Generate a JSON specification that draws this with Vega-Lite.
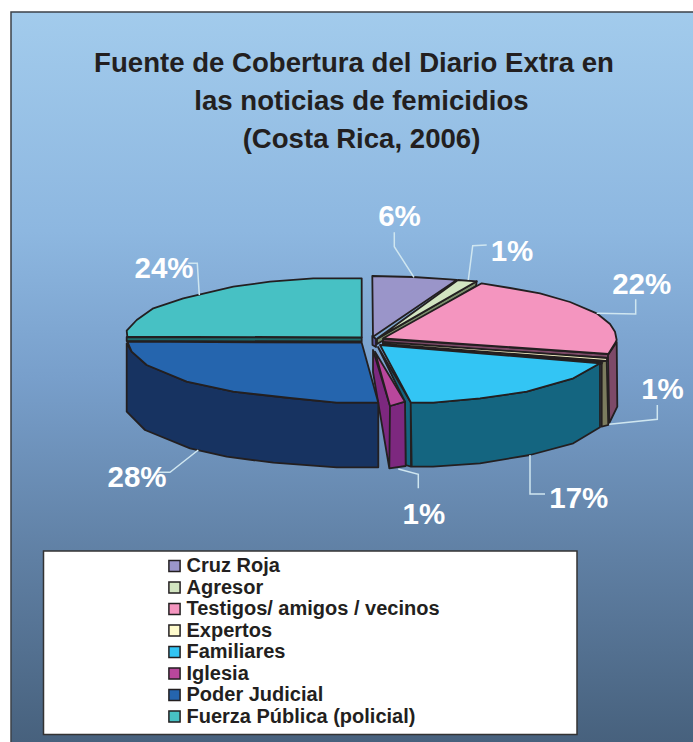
{
"$schema":"https://vega.github.io/schema/vega-lite/v6.json",
"width":692,"height":742,"autosize":{"type":"none"},"padding":{"left":0,"top":0,"right":1,"bottom":0},
"background":"#ffffff",
"view":{"stroke":null},
"title":{"text":"Fuente de Cobertura del Diario Extra en","font":"Liberation Sans","fontWeight":"bold","fontSize":27.6,"color":"#231f20","anchor":"middle","frame":"group","baseline":"alphabetic","offset":0,"dx":8,"dy":100},
"data":{"values":[
{"orden":1,"fuente":"Cruz Roja","valor":0.06},
{"orden":2,"fuente":"Agresor","valor":0.01},
{"orden":3,"fuente":"Testigos/ amigos / vecinos","valor":0.22},
{"orden":4,"fuente":"Expertos","valor":0.01},
{"orden":5,"fuente":"Familiares","valor":0.17},
{"orden":6,"fuente":"Iglesia","valor":0.01},
{"orden":7,"fuente":" Poder Judicial","valor":0.28},
{"orden":8,"fuente":"Fuerza Pública (policial)","valor":0.24}
]},
"resolve":{"scale":{"shape":"independent"},"legend":{"shape":"independent"}},
"layer":[
{"data":{"values":[{"elemento":"panel"}]},
 "mark":{"type":"point","filled":true,"opacity":1,"size":4,"shape":"M-335,372V-359H348V372Z","stroke":"#3d4248","strokeWidth":1.5,
  "fill":{"gradient":"linear","x1":0,"y1":0,"x2":0,"y2":1,"stops":[{"offset":0,"color":"#A2CBEC"},{"offset":0.3,"color":"#8DB7E0"},{"offset":0.5,"color":"#789FCB"},{"offset":0.75,"color":"#5F7FA3"},{"offset":1,"color":"#47617D"}]}},
 "encoding":{}},
{"data":{"values":[{"elemento":"recuadro"}]},
 "mark":{"type":"point","filled":true,"opacity":1,"size":4,"shape":"M-302.5,180H231V363.5H-302.5Z","stroke":"#333333","strokeWidth":1.5,"fill":"#ffffff"},
 "encoding":{}},
{"data":{"values":[{"elemento":"titulo"}]},
 "mark":{"type":"text","text":["las noticias de femicidios","(Costa Rica, 2006)"],"font":"Liberation Sans","fontWeight":"bold","fontSize":27.6,"lineHeight":38,"fill":"#231f20","align":"center","baseline":"alphabetic","dx":15.5,"dy":-261},
 "encoding":{}},
{"mark":{"type":"point","filled":true,"opacity":1,"size":4,"stroke":"#231f20","strokeWidth":1.8,"strokeJoin":"round"},
 "encoding":{
  "fill":{"field":"orden","type":"nominal","legend":null,"scale":{"domain":[1,2,3,4,5,6,7,8],"range":["#5A5799","#7A8F6B","#7D4A68","#7C7C5E","#146580","#7D287F","#173361","#1B6B6C"]}},
  "shape":{"field":"orden","type":"nominal","legend":null,"scale":{"domain":[1,2,3,4,5,6,7,8],"range":[
   "M26.3,-35L30,-32L30,-24L26.5,-26Z",
   "M130.7,-89.7L130,-85L31,-27L31,-32Z",
   "M37,-32L262,-17L262,-13L37,-28ZM262,-16L270.7,-29L271.3,35.7L263.3,52Z",
   "M255.7,-9L260.7,-11L262.3,54L255.7,55.7ZM37,-27L256,-9L256,-7L37,-25Z",
   "M64.7,31.3L87.3,31.7L134,27.3L180.7,20.7L227.3,7.3L254,-7.7L254,56.3L227.3,72.3L184,84L134,92.3L87,95.7L65.7,95.7ZM32,-24L64.7,31.3L65,95.7L59.5,94L59,31Z",
   "M44,35L59,30.7L59.7,95L43.3,97.3ZM27,-21L44,35L43.3,97.3L27,1Z",
   "M-219.3,-27.7L-214.3,-19.3L-199.3,-6L-159.3,10.7L-112.7,20.7L-56,27L-9.3,31.7L32.3,31.7L32.3,96.3L-9.3,96.3L-72.7,91.7L-119.3,85.7L-156,77.3L-201,59L-219.3,40.7Z",
   "M-219.3,-34L15.7,-33.5L15.7,-29.5L-219.3,-30Z"
  ]}}
 }},
{"mark":{"type":"point","filled":true,"opacity":1,"size":4,"stroke":"#231f20","strokeWidth":1.8,"strokeJoin":"round"},
 "encoding":{
  "color":{"field":"fuente","type":"nominal","title":null,
   "scale":{"domain":["Cruz Roja","Agresor","Testigos/ amigos / vecinos","Expertos","Familiares","Iglesia"," Poder Judicial","Fuerza Pública (policial)"],"range":["#9A95C9","#D2E5C1","#F495BF","#FFFBCC","#33C5F4","#B9479C","#2565AE","#47C1C4"]},
   "legend":{"orient":"none","legendX":164.5,"legendY":556,"zindex":1,"title":null,"symbolType":"square","symbolSize":125,"symbolStrokeColor":"#231f20","symbolStrokeWidth":1.5,"symbolOpacity":1,"labelFont":"Liberation Sans","labelFontWeight":"bold","labelFontSize":20,"labelColor":"#231f20","labelOffset":2,"labelLimit":420,"rowPadding":1.5,"padding":0}},
  "shape":{"field":"orden","type":"nominal","legend":null,"scale":{"domain":[1,2,3,4,5,6,7,8],"range":[
   "M26.3,-95L67,-94L104,-91.7L110.7,-91L27,-34.3Z",
   "M112,-91L130.7,-89.7L32,-33Z",
   "M135.7,-87.7L164,-83L194,-77.7L224,-69L250.7,-57.7L264,-47L269,-39.3L270.7,-31L269,-27.7L262.3,-17L37.3,-32.7Z",
   "M37,-29L261,-13L261,-10L37,-27Z",
   "M34,-26L254,-7.7L227.3,7.3L180.7,20.7L134,27.3L87.3,31.7L64.7,31.3Z",
   "M29,-19.3L59,30.7L44,35Z",
   "M-218.7,-29.3L15.7,-28.3L32.3,31.7L-9.3,31.7L-56,27L-112.7,20.7L-159.3,10.7L-199.3,-6L-214.3,-19.3Z",
   "M15.7,-92.7L-32.7,-92.7L-76,-89.3L-112.7,-84.3L-162.7,-72.7L-192.7,-62.7L-209.3,-51L-219.3,-40.3L-218.7,-34.3L15.7,-33.7Z"
  ]}}
 }},
{"mark":{"type":"point","filled":false,"opacity":1,"size":4,"stroke":"#CFE6F0","strokeWidth":1.5},
 "encoding":{
  "shape":{"field":"orden","type":"nominal","legend":null,"scale":{"domain":[1,2,3,4,5,6,7,8],"range":[
   "M48.3,-138.7L48.3,-124.3L68,-93.7",
   "M140.7,-126L126.7,-125.3L122.3,-91",
   "M289.7,-71.7L289.7,-57L250.7,-57.7",
   "M311.3,34L311.3,48.3L263.3,53.3",
   "M184,84L184,123L199,123",
   "M72.3,117.3L72.3,103.3L52.3,98",
   "M-147.7,79L-176,101.3L-187.7,101.3",
   "M-146.7,-76L-148.7,-107.7L-157.7,-107.7"
  ]}}
 }},
{"mark":{"type":"text","font":"Liberation Sans","fontWeight":"bold","fontSize":29.5,"fill":"#ffffff","align":"center","baseline":"alphabetic"},
 "encoding":{
  "text":{"field":"valor","type":"quantitative","format":".0%"},
  "x":{"field":"orden","type":"quantitative","axis":null,"scale":{"domain":[1,2,3,4,5,6,7,8],"range":[399.5,512,641.7,662.5,578.8,423.8,137,164],"nice":false,"zero":false}},
  "y":{"field":"orden","type":"quantitative","axis":null,"scale":{"domain":[1,2,3,4,5,6,7,8],"range":[226,260.7,294.3,399.3,508.3,524,486.7,277.7],"nice":false,"zero":false}}
 }}
]
}
